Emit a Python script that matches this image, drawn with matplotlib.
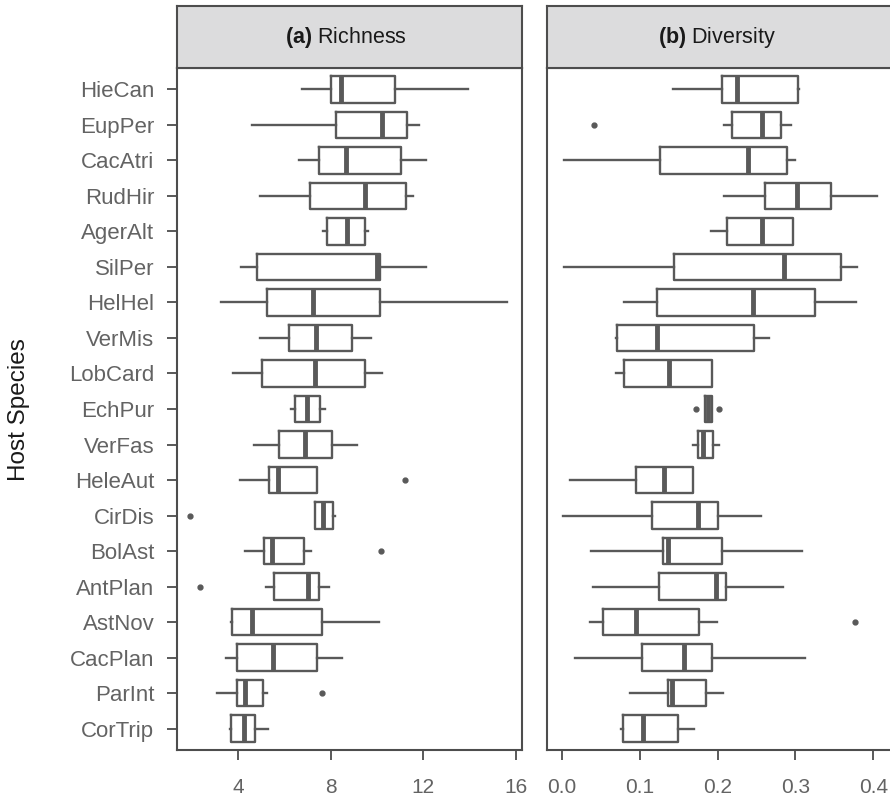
import matplotlib
matplotlib.use('Agg')
import matplotlib.pyplot as plt

plt.rcParams['font.family'] = ['Liberation Sans', 'DejaVu Sans']
plt.rcParams['mathtext.fontset'] = 'custom'
plt.rcParams['mathtext.rm'] = 'Liberation Sans'
plt.rcParams['mathtext.bf'] = 'Liberation Sans:bold'

species = ["HieCan", "EupPer", "CacAtri", "RudHir", "AgerAlt", "SilPer", "HelHel",
           "VerMis", "LobCard", "EchPur", "VerFas", "HeleAut", "CirDis", "BolAst",
           "AntPlan", "AstNov", "CacPlan", "ParInt", "CorTrip"]

# (a) richness: whisker low, q1, median, q3, whisker high, outliers
rich_lo = [6.77, 4.58, 6.64, 4.94, 7.65, 4.12, 3.24, 4.94, 3.78, 6.29, 4.69, 4.07, 7.30, 4.29, 5.21, 3.68, 3.47, 3.09, 3.64]
rich_q1 = [8.01, 8.23, 7.49, 7.10, 7.84, 4.79, 5.25, 6.19, 5.01, 6.47, 5.77, 5.34, 7.30, 5.13, 5.54, 3.73, 3.94, 3.93, 3.70]
rich_med = [8.43, 10.23, 8.64, 9.48, 8.69, 9.98, 7.24, 7.35, 7.32, 6.98, 6.90, 5.70, 7.68, 5.44, 7.03, 4.61, 5.49, 4.29, 4.25]
rich_q3 = [10.78, 11.28, 11.04, 11.25, 9.49, 10.12, 10.13, 8.92, 9.47, 7.53, 8.07, 7.42, 8.11, 6.84, 7.49, 7.63, 7.39, 5.08, 4.74]
rich_hi = [13.92, 11.83, 12.12, 11.57, 9.60, 12.12, 15.63, 9.74, 10.23, 7.75, 9.12, 7.42, 8.18, 7.13, 7.94, 10.07, 8.50, 5.23, 5.28]
rich_out = [[], [], [], [], [], [], [], [], [], [], [], [11.22], [1.92], [10.19], [2.34], [], [], [7.62], []]

# (b) diversity
div_lo = [0.1425, 0.2088, 0.003, 0.2088, 0.1917, 0.003, 0.0804, 0.0697, 0.0701, 0.1845, 0.1681, 0.0107, 0.0021, 0.0376, 0.0406, 0.0368, 0.0167, 0.0877, 0.0761]
div_q1 = [0.2058, 0.2186, 0.1262, 0.2614, 0.2122, 0.1437, 0.1228, 0.0714, 0.0796, 0.1845, 0.175, 0.0954, 0.1159, 0.1305, 0.1245, 0.0534, 0.1035, 0.1369, 0.0783]
div_med = [0.2246, 0.2571, 0.2396, 0.302, 0.2571, 0.2854, 0.2451, 0.1219, 0.1381, 0.188, 0.1818, 0.1313, 0.1754, 0.1369, 0.1981, 0.0954, 0.1574, 0.1412, 0.1048]
div_q3 = [0.303, 0.2819, 0.2888, 0.3453, 0.2965, 0.3585, 0.3252, 0.2469, 0.1933, 0.1925, 0.1938, 0.1686, 0.2003, 0.2062, 0.2113, 0.1763, 0.1933, 0.1848, 0.1497]
div_hi = [0.305, 0.2944, 0.2995, 0.4052, 0.2965, 0.3795, 0.3774, 0.2665, 0.1933, 0.1925, 0.2015, 0.1686, 0.2555, 0.3089, 0.2841, 0.1998, 0.3123, 0.2075, 0.1698]
div_out = [[], [0.0419], [], [], [], [], [], [], [], [0.172, 0.2023], [], [], [], [], [], [0.3761], [], [], []]

line_col = '#595959'
border_col = '#4d4d4d'
text_col = '#636363'


def make_stats(lo, q1, med, q3, hi, out):
    stats = []
    for i in range(len(lo)):
        stats.append(dict(whislo=lo[i], q1=q1[i], med=med[i], q3=q3[i],
                          whishi=hi[i], fliers=out[i]))
    return stats


def draw_panel(ax, stats, xlim, xticks, show_y):
    pos = list(range(1, len(species) + 1))
    ax.bxp(stats, positions=pos, widths=0.75, orientation='horizontal',
           showcaps=False,
           boxprops=dict(color=line_col, linewidth=1.7),
           whiskerprops=dict(color=line_col, linewidth=1.7),
           medianprops=dict(color=line_col, linewidth=3.5, solid_capstyle='butt'),
           flierprops=dict(marker='o', markerfacecolor=line_col,
                           markeredgecolor=line_col, markersize=3.5))
    ax.set_ylim(len(species) + 0.6, 0.4)
    ax.set_xlim(*xlim)
    ax.set_xticks(xticks)
    ax.set_yticks(pos)
    ax.tick_params(axis='both', length=7, width=1.4, color=line_col,
                   labelcolor=text_col)
    ax.tick_params(axis='x', labelsize=15, pad=13.5)
    if show_y:
        ax.set_yticklabels(species)
        ax.tick_params(axis='y', labelsize=16, pad=9.5)
    else:
        ax.tick_params(axis='y', left=False, labelleft=False)
    for s in ax.spines.values():
        s.set_color(border_col)
        s.set_linewidth(1.5)
    return ax


fig = plt.figure(figsize=(8.9, 7.99), dpi=100)

W, H = 890.0, 799.0
panel_top, panel_bot = 68.0, 750.0
strip_top = 6.0
panels = [
    (177.3, 344.4, make_stats(rich_lo, rich_q1, rich_med, rich_q3, rich_hi, rich_out),
     (1.36, 16.26), [4, 8, 12, 16], r"$\mathbf{(a)}$ Richness", True),
    (547.3, 345.5, make_stats(div_lo, div_q1, div_med, div_q3, div_hi, div_out),
     (-0.0185, 0.425), [0.0, 0.1, 0.2, 0.3, 0.4], r"$\mathbf{(b)}$ Diversity", False),
]

for x0, w, stats, xlim, xticks, title, show_y in panels:
    ax = fig.add_axes([x0 / W, (H - panel_bot) / H, w / W, (panel_bot - panel_top) / H])
    draw_panel(ax, stats, xlim, xticks, show_y)
    sax = fig.add_axes([x0 / W, (H - panel_top) / H, w / W, (panel_top - strip_top) / H])
    sax.set_facecolor('#dcdcdd')
    sax.set_xticks([])
    sax.set_yticks([])
    for s in sax.spines.values():
        s.set_color(border_col)
        s.set_linewidth(1.5)
    sax.text(0.49, 0.5, title, ha='center', va='center', fontsize=15.5,
             color='#1a1a1a', transform=sax.transAxes)

fig.text(19 / W, (H - 410) / H, "Host Species",
         rotation=90, ha='center', va='center', fontsize=17.5, color='#1a1a1a')

fig.savefig("out.png", dpi=100)
